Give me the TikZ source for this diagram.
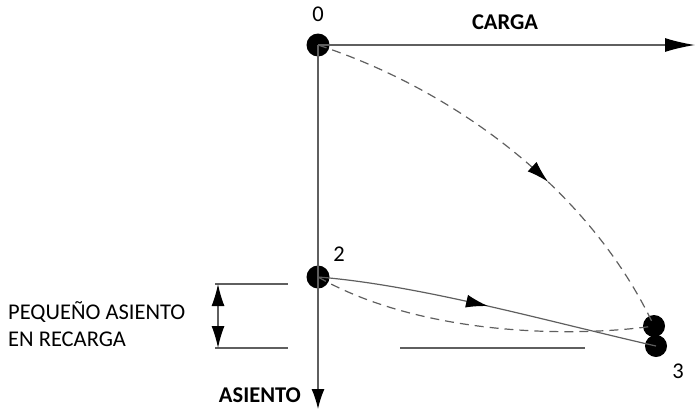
\documentclass[tikz,border=0pt]{standalone}
\usepackage{fontspec}
\setmainfont{Carlito}
\usetikzlibrary{arrows.meta,decorations.markings}
\definecolor{ln}{RGB}{95,95,95}
\tikzset{
  dot/.style={circle,fill=black,inner sep=0pt,minimum size=#1},
  axis/.style={draw=ln,line width=1.4pt},
  curvedash/.style={draw=ln,line width=1.2pt,dash pattern=on 9pt off 6pt},
  curvesolid/.style={draw=ln,line width=1.2pt},
  tipm/.tip={Latex[length=22pt,width=13pt,color=black]},
  midarrow/.style={postaction={decorate},decoration={markings,mark=at position #1 with {\arrow{tipm}}}},
  lbl/.style={font=\fontsize{22.5}{27}\selectfont,text=black,inner sep=0pt},
  blbl/.style={font=\fontsize{22.5}{27}\selectfont\bfseries,text=black,inner sep=0pt},
  tick/.style={draw=ln,line width=1.2pt}
}
\begin{document}
\begin{tikzpicture}[x=1pt,y=-1pt]
\useasboundingbox (0,0) rectangle (695,410);
% points
\node[dot=23pt] (p0) at (318,45) {};
\node[dot=23pt] (p2) at (318,277) {};
\node[dot=22pt] (p3a) at (654,326) {};
\node[dot=22pt] (p3b) at (656,346) {};
\coordinate (xend) at (695,45);
\coordinate (yend) at (318,409);
% axes
\draw[axis,-{Latex[length=30pt,width=14pt,color=black]}] (p0.center) -- (xend);
\draw[axis,-{Latex[length=20pt,width=13pt,color=black]}] (p0.center) -- (yend);
% labels
\node[lbl] (l0) at (318,14) {0};
\node[blbl] (lc) at (505,22) {CARGA};
\node[lbl] (l2) at (339,254) {2};
\node[lbl] (l3) at (678,371) {3};
\node[blbl,anchor=east] (la) at (301,395) {ASIENTO};
\node[lbl,anchor=west,align=left] (lp) at (8,324) {PEQUEÑO ASIENTO\\EN RECARGA};
% curves
\draw[curvedash,midarrow=0.6] (p0.center) .. controls (455,90) and (590,190) .. (p3a.center);
\draw[curvesolid,midarrow=0.5] (p2.center) .. controls (420,285) and (550,322) .. (p3b.center);
\draw[curvedash] (p2.center) .. controls (420,335) and (570,338) .. (p3a.center);
% small settlement dimension
\coordinate (t1a) at (215,284);
\coordinate (t1b) at (288,284);
\coordinate (t2a) at (215,348);
\coordinate (t2b) at (288,348);
\coordinate (h1) at (400,348);
\coordinate (h2) at (585,348);
\coordinate (da) at (218,284);
\coordinate (db) at (218,348);
\draw[tick] (t1a) -- (t1b);
\draw[tick] (t2a) -- (t2b);
\draw[tick] (h1) -- (h2);
\draw[draw=ln,line width=1.2pt,tipm-tipm] (da) -- (db);
\end{tikzpicture}
\end{document}
